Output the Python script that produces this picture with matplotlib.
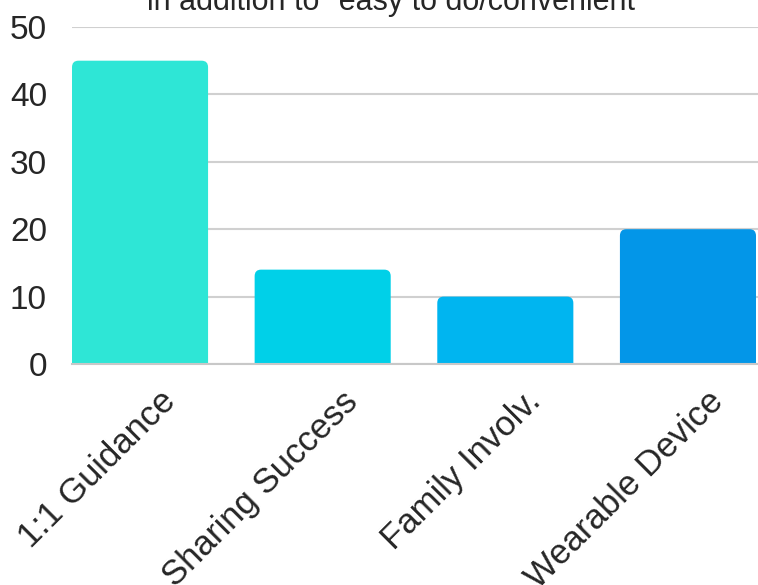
import matplotlib.pyplot as plt
from matplotlib.patches import FancyBboxPatch
from matplotlib.transforms import ScaledTranslation

# Data
categories = ['1:1 Guidance', 'Sharing Success', 'Family Involv.', 'Wearable Device']
values = [45, 14, 10, 20]
bar_colors = ['#2ee6d6', '#00d0e8', '#00b5f0', '#0396e8']
title = 'in addition to "easy to do/convenient"'

plt.rcParams['font.family'] = ['Liberation Sans', 'DejaVu Sans']
text_color = '#262626'

W, H = 758, 585
fig = plt.figure(figsize=(W / 100, H / 100), dpi=100)
ax = fig.add_axes([72 / W, (H - 364) / H, (758 - 72) / W, (364 - 27) / H])

x = list(range(len(categories)))
bars = ax.bar(x, values, width=0.745, color=bar_colors)

ax.set_xlim(-0.3725, 3.3835)
ax.set_ylim(0, 50)

# swap plain rectangles for ones with rounded top corners
rx = 0.035
ry = rx * (186.0 / 6.74)
for b in bars:
    bx, by = b.get_x(), b.get_y()
    bw, bh = b.get_width(), b.get_height()
    b.set_visible(False)
    patch = FancyBboxPatch((bx, by - 2), bw, bh + 2,
                           boxstyle='round,pad=0,rounding_size=%f' % rx,
                           mutation_aspect=ry / rx,
                           facecolor=b.get_facecolor(), edgecolor='none',
                           zorder=2)
    ax.add_patch(patch)

ax.set_yticks([0, 10, 20, 30, 40, 50])
ax.yaxis.grid(True, color='#d0d0d0', linewidth=1.5, zorder=0)
ax.set_axisbelow(True)
for s in ['top', 'right', 'left']:
    ax.spines[s].set_visible(False)
ax.spines['bottom'].set_color('#c8c8c8')
ax.spines['bottom'].set_linewidth(1.5)
ax.spines['bottom'].set_zorder(3)

ax.tick_params(axis='y', length=0, pad=18, labelsize=24, labelcolor=text_color)
ax.tick_params(axis='x', length=0, pad=15, labelsize=25, labelcolor=text_color)
ax.set_xticks(x)
ax.set_xticklabels(categories, rotation=45, ha='right', va='top')
offset = ScaledTranslation(42 / 100, 0, fig.dpi_scale_trans)
for lab in ax.get_xticklabels():
    lab.set_transform(lab.get_transform() + offset)

fig.text(396 / W, 1 - 10 / H, title, ha='center', va='baseline',
         fontsize=22, color=text_color)

fig.savefig('out.png', dpi=100)
